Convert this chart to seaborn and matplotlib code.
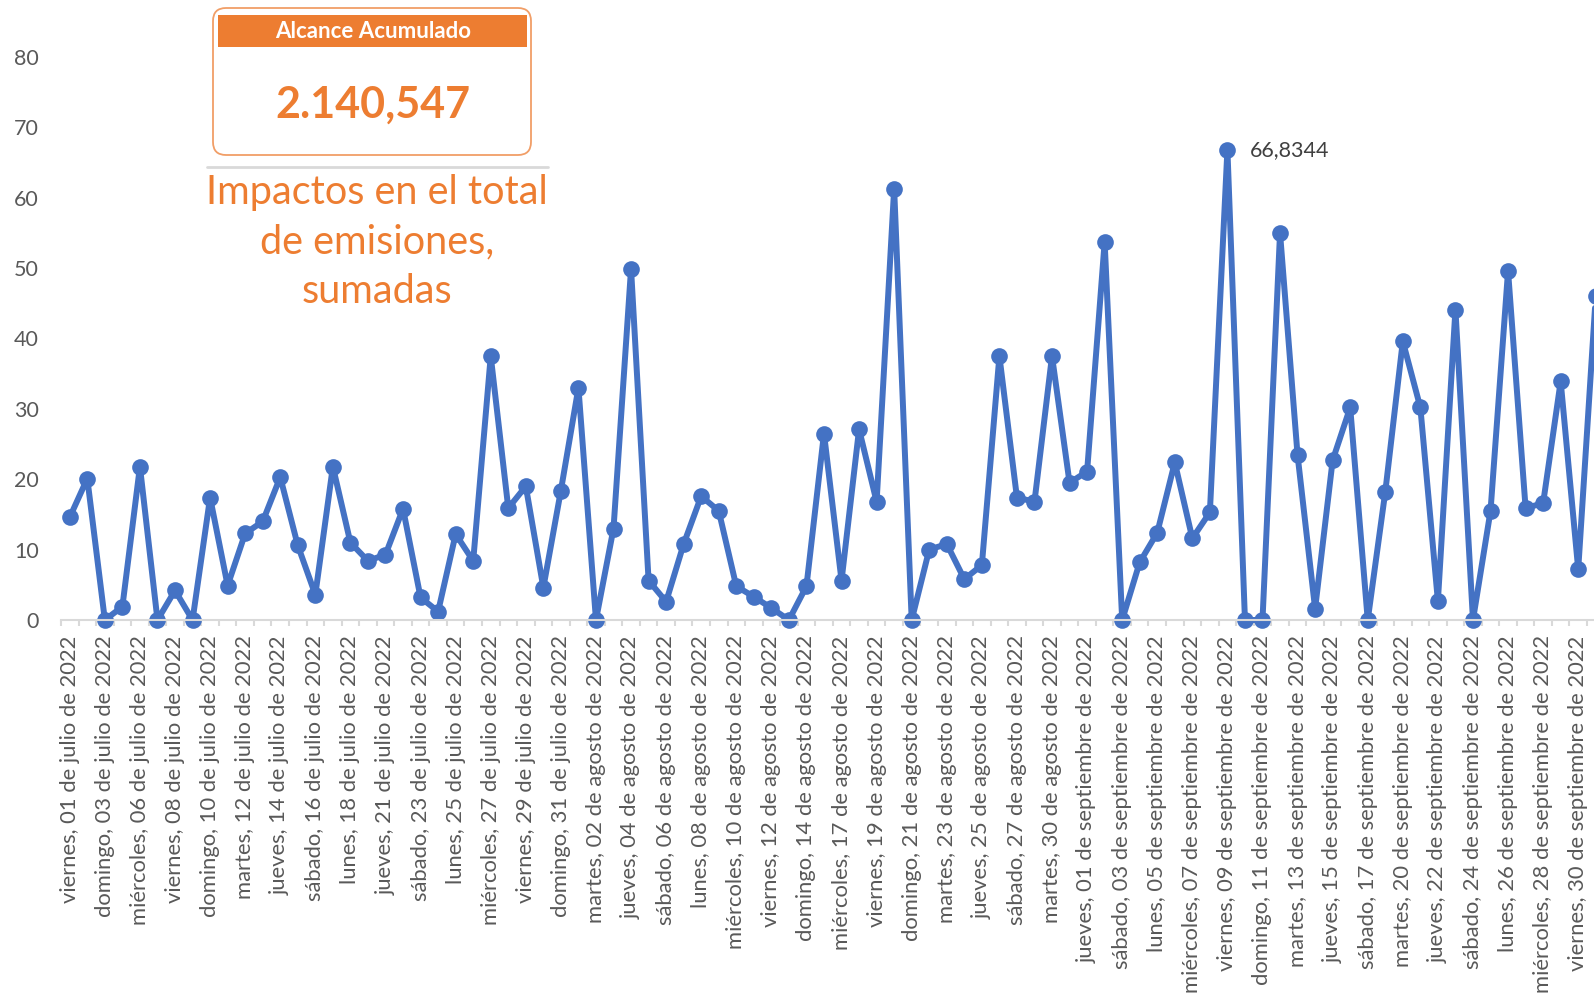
import numpy as np
import pandas as pd
import seaborn as sns
from matplotlib import pyplot as plt
from matplotlib.patches import FancyBboxPatch, Rectangle
from matplotlib.lines import Line2D

# etiquetas visibles del eje (una de cada dos fechas)
fechas = [
    'viernes, 01 de julio de 2022', 'domingo, 03 de julio de 2022',
    'miércoles, 06 de julio de 2022', 'viernes, 08 de julio de 2022',
    'domingo, 10 de julio de 2022', 'martes, 12 de julio de 2022',
    'jueves, 14 de julio de 2022', 'sábado, 16 de julio de 2022',
    'lunes, 18 de julio de 2022', 'jueves, 21 de julio de 2022',
    'sábado, 23 de julio de 2022', 'lunes, 25 de julio de 2022',
    'miércoles, 27 de julio de 2022', 'viernes, 29 de julio de 2022',
    'domingo, 31 de julio de 2022', 'martes, 02 de agosto de 2022',
    'jueves, 04 de agosto de 2022', 'sábado, 06 de agosto de 2022',
    'lunes, 08 de agosto de 2022', 'miércoles, 10 de agosto de 2022',
    'viernes, 12 de agosto de 2022', 'domingo, 14 de agosto de 2022',
    'miércoles, 17 de agosto de 2022', 'viernes, 19 de agosto de 2022',
    'domingo, 21 de agosto de 2022', 'martes, 23 de agosto de 2022',
    'jueves, 25 de agosto de 2022', 'sábado, 27 de agosto de 2022',
    'martes, 30 de agosto de 2022', 'jueves, 01 de septiembre de 2022',
    'sábado, 03 de septiembre de 2022', 'lunes, 05 de septiembre de 2022',
    'miércoles, 07 de septiembre de 2022', 'viernes, 09 de septiembre de 2022',
    'domingo, 11 de septiembre de 2022', 'martes, 13 de septiembre de 2022',
    'jueves, 15 de septiembre de 2022', 'sábado, 17 de septiembre de 2022',
    'martes, 20 de septiembre de 2022', 'jueves, 22 de septiembre de 2022',
    'sábado, 24 de septiembre de 2022', 'lunes, 26 de septiembre de 2022',
    'miércoles, 28 de septiembre de 2022', 'viernes, 30 de septiembre de 2022',
]

impactos = [
    14.6, 20.1, 0, 1.9, 21.8, 0, 4.2, 0, 17.4, 4.9,
    12.3, 14.0, 20.3, 10.6, 3.6, 21.8, 11.0, 8.4, 9.3, 15.8,
    3.2, 1.2, 12.2, 8.4, 37.5, 15.9, 19.0, 4.6, 18.4, 33.0,
    0, 13.0, 49.9, 5.6, 2.6, 10.8, 17.6, 15.5, 4.8, 3.3,
    1.7, 0, 4.8, 26.5, 5.6, 27.1, 16.8, 61.3, 0, 10.0,
    10.8, 5.8, 7.8, 37.5, 17.4, 16.8, 37.5, 19.5, 21.1, 53.7,
    0, 8.2, 12.4, 22.4, 11.6, 15.3, 66.8344, 0, 0, 55.0,
    23.4, 1.6, 22.7, 30.2, 0, 18.2, 39.6, 30.2, 2.7, 44.1,
    0, 15.5, 49.6, 15.9, 16.6, 33.9, 7.2, 46.0,
]

alcance = '2.140,547'
pico = '66,8344'
titulo = 'Impactos en el total\nde emisiones,\nsumadas'

azul = '#4472C4'
naranja = '#ED7D31'
gris = '#595959'

sns.set_theme(style='white')
plt.rcParams['font.family'] = ['Lato', 'DejaVu Sans']

W, H = 1594, 994
fig = plt.figure(figsize=(W / 100, H / 100), dpi=100)
ax = fig.add_axes([61 / W, 1 - 620 / H, (W - 61) / W, (620 - 57) / H])

df = pd.DataFrame({'pos': np.arange(len(impactos)), 'valor': impactos})
sns.lineplot(data=df, x='pos', y='valor', ax=ax, color=azul, linewidth=4.3,
             marker='o', markersize=12, markeredgewidth=0, clip_on=False)

ax.set_xlim(-0.5, 86.9)
ax.set_ylim(0, 80)
ax.set_xlabel('')
ax.set_ylabel('')
ax.set_yticks(np.arange(0, 81, 10))
ax.set_xticks(np.arange(0, 2 * len(fechas), 2))
ax.set_xticklabels(fechas)
ax.set_xticks(np.arange(-0.5, len(impactos) - 1, 1), minor=True)

for s in ['left', 'top', 'right']:
    ax.spines[s].set_visible(False)
ax.spines['bottom'].set_color('#D9D9D9')
ax.spines['bottom'].set_linewidth(1.5)

ax.tick_params(axis='x', which='major', length=0, pad=11, labelsize=15.8,
               labelcolor=gris, rotation=90)
ax.tick_params(axis='x', which='minor', bottom=True, length=4.5, width=1.5,
               color='#D9D9D9')
ax.tick_params(axis='y', length=0, pad=16, labelsize=15.5, labelcolor=gris)

ax.annotate(pico, xy=(66, impactos[66]), xytext=(16, 0),
            textcoords='offset points', ha='left', va='center',
            fontsize=15.5, color='#404040')

# tarjeta "Alcance Acumulado"
def fy(py):
    return (H - py) / 100

tr = fig.dpi_scale_trans
fig.patches.append(FancyBboxPatch((2.13, fy(155)), 3.18, 1.47,
                                  boxstyle='round,pad=0,rounding_size=0.13',
                                  transform=tr, facecolor='white',
                                  edgecolor='#F19E67', linewidth=1.3))
fig.patches.append(Rectangle((2.18, fy(47)), 3.09, 0.32, transform=tr,
                             facecolor=naranja, edgecolor='none'))
fig.text(373 / W, 1 - 32 / H, 'Alcance Acumulado', color='white',
         fontweight='bold', fontsize=16, ha='center', va='center')
fig.text(373 / W, 1 - 105 / H, alcance, color=naranja, fontweight='bold',
         fontsize=31, ha='center', va='center')
fig.lines.append(Line2D([207 / W, 548 / W], [1 - 167 / H, 1 - 167 / H],
                        transform=fig.transFigure, color='#D9D9D9', linewidth=2))
fig.text(377 / W, 1 - 242 / H, titulo, color=naranja, fontsize=28.5,
         ha='center', va='center', multialignment='center', linespacing=1.42)

fig.savefig('out.png', dpi=100)
